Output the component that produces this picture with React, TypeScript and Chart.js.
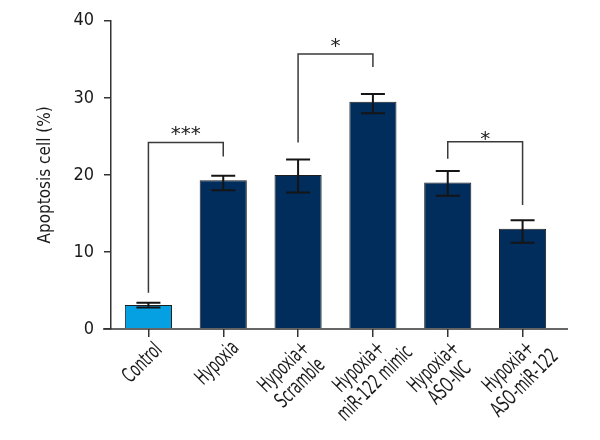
import React, { useEffect, useRef } from 'react';
import { Chart, registerables } from 'chart.js';

Chart.register(...registerables);

const categories: string[][] = [
  ['Control'],
  ['Hypoxia'],
  ['Hypoxia+', 'Scramble'],
  ['Hypoxia+', 'miR-122 mimic'],
  ['Hypoxia+', 'ASO-NC'],
  ['Hypoxia+', 'ASO-miR-122'],
];
const values = [3.1, 19.3, 20.0, 29.5, 19.0, 13.0];
const errUpper = [3.4, 19.9, 22.0, 30.5, 20.5, 14.1];
const errLower = [2.8, 18.0, 17.7, 28.0, 17.3, 11.2];

const yTicks = [0, 10, 20, 30, 40];

const bracketFrom = [0, 2, 4];
const bracketTo = [1, 3, 5];
const bracketTop = [24.2, 35.7, 24.3];
const bracketLeftEnd = [4.7, 24.2, 22.1];
const bracketRightEnd = [22.4, 34.0, 16.1];
const bracketLabels = ['***', '*', '*'];
const bracketLabelY = [26.0, 37.4, 25.3];

const FONT = "'DejaVu Sans Condensed', 'Liberation Sans Narrow', sans-serif";

export default function App() {
  const ref = useRef<HTMLCanvasElement>(null);

  useEffect(() => {
    if (!ref.current) return;
    const extras = {
      id: 'extras',
      afterDatasetsDraw(chart: any) {
        const { ctx, scales, chartArea } = chart;
        const x = scales.x;
        const y = scales.y;
        ctx.save();
        // x axis line (extended like GraphPad)
        ctx.strokeStyle = '#333';
        ctx.lineWidth = 1.5;
        ctx.beginPath();
        ctx.moveTo(chartArea.left - 8, chartArea.bottom);
        ctx.lineTo(chartArea.right + 8, chartArea.bottom);
        ctx.stroke();
        // error bars
        ctx.strokeStyle = '#151515';
        ctx.lineWidth = 2;
        values.forEach((_, i) => {
          const cx = x.getPixelForValue(i);
          const yh = y.getPixelForValue(errUpper[i]);
          const yl = y.getPixelForValue(errLower[i]);
          ctx.beginPath();
          ctx.moveTo(cx, yh);
          ctx.lineTo(cx, yl);
          ctx.moveTo(cx - 12, yh);
          ctx.lineTo(cx + 12, yh);
          ctx.moveTo(cx - 12, yl);
          ctx.lineTo(cx + 12, yl);
          ctx.stroke();
        });
        // significance brackets
        ctx.strokeStyle = '#3a3a3a';
        ctx.lineWidth = 1.5;
        bracketFrom.forEach((f, k) => {
          const x1 = x.getPixelForValue(f);
          const x2 = x.getPixelForValue(bracketTo[k]);
          const yt = y.getPixelForValue(bracketTop[k]);
          ctx.beginPath();
          ctx.moveTo(x1, y.getPixelForValue(bracketLeftEnd[k]));
          ctx.lineTo(x1, yt);
          ctx.lineTo(x2, yt);
          ctx.lineTo(x2, y.getPixelForValue(bracketRightEnd[k]));
          ctx.stroke();
          ctx.fillStyle = '#222';
          ctx.font = "20px 'DejaVu Sans', sans-serif";
          ctx.textAlign = 'center';
          ctx.textBaseline = 'alphabetic';
          ctx.fillText(bracketLabels[k], (x1 + x2) / 2, y.getPixelForValue(bracketLabelY[k]) + 11);
        });
        // rotated, centre-aligned category labels (condensed)
        const LH = 23;
        ctx.fillStyle = '#1a1a1a';
        ctx.font = `21px ${FONT}`;
        ctx.textAlign = 'center';
        ctx.textBaseline = 'alphabetic';
        categories.forEach((lines, i) => {
          const tx = x.getPixelForValue(i);
          const n = lines.length;
          ctx.save();
          ctx.translate(tx - 7, chartArea.bottom + 33 + (n - 1) * 12);
          ctx.rotate(-Math.PI / 4);
          lines.forEach((t, j) => {
            ctx.save();
            ctx.translate(0, (j - (n - 1) / 2) * LH);
            ctx.scale(0.68, 1);
            ctx.fillText(t, 0, 7.5);
            ctx.restore();
          });
          ctx.restore();
        });
        ctx.restore();
      },
    };

    const chart = new Chart(ref.current, {
      type: 'bar',
      data: {
        labels: categories,
        datasets: [
          {
            data: values,
            backgroundColor: (c: any) => (c.dataIndex === 0 ? '#05a0e2' : '#002d5c'),
            borderColor: '#1e1e1e',
            borderWidth: 1,
            categoryPercentage: 1,
            barPercentage: 0.63,
          },
        ],
      },
      options: {
        animation: false,
        responsive: false,
        maintainAspectRatio: false,
        layout: { padding: { top: 19, right: 40, left: 0, bottom: 0 } },
        plugins: { legend: { display: false }, tooltip: { enabled: false } },
        scales: {
          x: {
            afterFit: (s: any) => {
              s.height = 111;
            },
            grid: {
              display: true,
              offset: false,
              drawOnChartArea: false,
              drawTicks: true,
              tickLength: 8,
              color: '#333',
              lineWidth: 1.5,
            },
            border: { display: false },
            ticks: { display: false, autoSkip: false },
          },
          y: {
            min: 0,
            max: 40,
            afterFit: (s: any) => {
              s.width = 111;
            },
            afterBuildTicks: (s: any) => {
              s.ticks = yTicks.map((v) => ({ value: v }));
            },
            grid: {
              display: true,
              drawOnChartArea: false,
              drawTicks: true,
              tickLength: 7,
              color: '#333',
              lineWidth: 1.5,
            },
            border: { display: true, color: '#333', width: 1.5 },
            ticks: {
              color: '#1a1a1a',
              padding: 10,
              font: { family: FONT, size: 18 },
            },
            title: {
              display: true,
              text: 'Apoptosis cell (%)',
              color: '#1a1a1a',
              padding: { top: 35, bottom: 0 },
              font: { family: FONT, size: 17 },
            },
          },
        },
      },
      plugins: [extras],
    } as any);
    return () => chart.destroy();
  }, []);

  return (
    <div style={{ position: 'fixed', left: 0, top: 0, width: 600, height: 440, background: '#fff' }}>
      <canvas ref={ref} width={600} height={440} />
    </div>
  );
}
